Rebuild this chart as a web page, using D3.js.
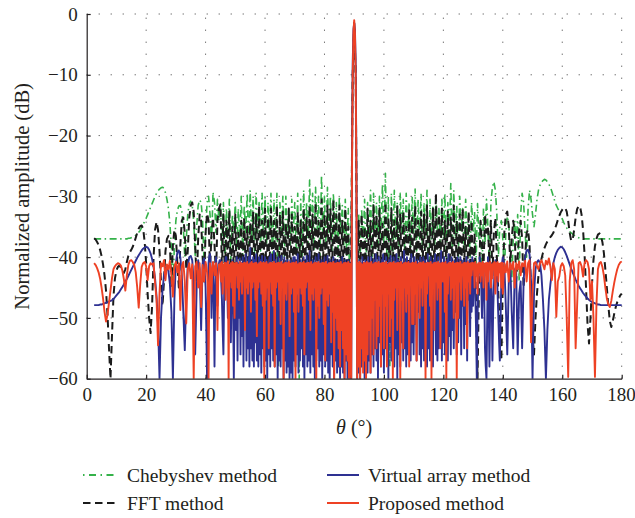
<!DOCTYPE html>
<html><head><meta charset="utf-8">
<script src="https://cdn.jsdelivr.net/npm/d3@7/dist/d3.min.js"></script>
<style>
body{margin:0;background:#fff}
svg{display:block}
text{font-family:"Liberation Serif","DejaVu Serif","Noto Serif",serif;fill:#231f20}
</style>
</head><body>
<svg id="chart" width="635" height="518"></svg>
<script>
const xTicks = [0, 20, 40, 60, 80, 100, 120, 140, 160, 180];
const yTicks = [0, -10, -20, -30, -40, -50, -60];
const seriesNames = ["Chebyshev method", "FFT method", "Virtual array method", "Proposed method"];

// Chebyshev & FFT: theta = 2.5° ... 180° step 0.5°
const chebyshev = [
-37,-37,-37,-37,-37,
-37,-37,-37,-37,-37,-37,-37,-37,-37,-37,
-37,-37,-37,-37,-37,-37,-37,-37,-36.9,-36.9,
-36.8,-36.7,-36.6,-36.4,-36.2,-35.9,-35.6,-35.1,-34.6,-34.1,
-33.6,-33.0,-32.4,-31.8,-31.2,-30.6,-30.0,-29.5,-29.1,-28.8,
-28.6,-28.5,-28.7,-29.4,-30.5,-32.0,-34.5,-38.5,-45,-38,
-34,-32.3,-31.6,-31.5,-32.5,-35,-40,-37,-33,-31.2,
-30.8,-31.5,-34,-40,-35,-31.5,-30.6,-31,-34,-41,
-36,-31,-30,-33,-38,-29.3,-31,-36,-30.5,-34,
-31.4,-38,-31,-40,-32,-37,-30.5,-41,-33,-36,
-31,-39,-32,-37,-30,-40,-31.5,-36,-29.5,-38,
-29,-37,-30,-40,-29.5,-36,-31,-39,-29.5,-37,
-30,-38,-31,-36,-29.5,-41,-30.5,-37,-29.5,-58,
-31,-36,-30,-40,-30,-37,-32,-38,-30.5,-36,
-31,-39,-29.5,-60,-30.5,-40,-29,-36,-31,-38,
-27.3,-37,-29.5,-39,-28.5,-36,-30,-40,-26.5,-37,
-30,-38,-28.5,-36,-30,-39,-29.5,-37,-31,-40,
-30,-36,-31.5,-38,-30.5,-40,-32,-45,-33,-10,
-1.5,-10,-45,-33,-40,-32,-38,-30.5,-41,-31,
-37,-29,-40,-29.5,-36,-31,-39,-30,-37,-28,
-38,-26.2,-40,-30,-58,-29.5,-39,-29,-37,-31,
-40,-29.5,-36,-30.5,-39,-29.5,-37,-31,-40,-30,
-36,-28.8,-39,-30.5,-37,-29.5,-40,-31,-36,-29,
-55,-30.5,-37,-31.5,-40,-30,-36,-32,-39,-30.5,
-37,-29.5,-40,-31,-36,-27.9,-39,-29,-37,-31.5,
-40,-30,-36,-32,-39,-30.5,-37,-33,-40,-31,
-36,-32.5,-41,-31.2,-37,-34,-43,-32,-38,-30.5,
-35,-42,-31,-28.5,-27.6,-29,-33,-40,-35,-34,
-37,-43,-36,-33.3,-34.5,-39,-44,-37,-34,-38,
-33,-44,-33,-29.5,-31,-36,-40,-32,-29.0,-30.5,
-33,-35,-33,-30.5,-29,-28.2,-27.7,-27.4,-27.2,-27.3,
-27.6,-28.0,-28.5,-29.2,-30.0,-30.8,-31.5,-32.0,-32.5,-33.1,
-33.7,-34.3,-34.8,-35.2,-35.5,-35.8,-36.0,-36.2,-36.4,-36.6,
-36.7,-36.8,-36.9,-36.9,-37,-37,-37,-37,-37,-37,
-37,-37,-37,-37,-37,-37,-37,-37,-37,-37,
-37,-37,-37,-37,-37,-37,-37,-37,-37,-37,
-37
];

const fft = [
-36.9,-37.1,-37.5,-38.0,-38.8,
-39.8,-41.2,-43.0,-45.5,-49.5,-55,-60,-53,-46.5,-43.5,
-42.2,-41.6,-41.4,-41.7,-42.3,-42.6,-42.0,-40.8,-39.8,-39.2,
-38.8,-38.3,-37.6,-36.8,-36.0,-35.3,-34.9,-34.8,-35.3,-37.5,
-41,-46,-50,-52.5,-48,-40,-35.5,-34.2,-35.5,-39,
-44,-48,-44,-39,-37,-36.5,-38,-45,-38,-35.5,
-36.5,-41,-45,-38,-34,-33.5,-36,-42,-39,-33.5,
-31.5,-31,-32.5,-38,-44,-37,-33,-34,-40,-44,
-36,-32.8,-34,-42,-36,-33.5,-38,-43,-34,-32,
-31.3,-42,-33,-44,-34,-41,-32.5,-45,-35,-42,
-33,-44,-36,-41,-34,-46,-33.5,-42,-35,-44,
-34.4,-41,-32.5,-45,-33,-42,-31.5,-44,-34,-41,
-32,-45,-33.5,-42,-32,-44,-34,-41,-31.5,-46,
-33,-42,-32.5,-44,-34.5,-41,-32,-45,-33,-42,
-35,-44,-32.5,-41,-34,-46,-32,-42,-33.5,-44,
-31.5,-41,-33,-45,-31,-42,-34,-44,-30.5,-41,
-33,-45,-31.5,-42,-32,-44,-30.5,-41,-33,-46,
-31.5,-42,-34,-44,-32,-41,-35,-50,-38,-10,
-1.5,-10,-45,-34,-43,-33,-42,-35,-44,-32,
-41,-34,-45,-31.5,-42,-33,-44,-32,-41,-34.5,
-45,-31,-42,-33.5,-44,-32,-41,-34,-46,-31.5,
-42,-33,-44,-32.5,-41,-35,-45,-32,-42,-33.5,
-44,-31.5,-41,-34,-46,-32.5,-42,-33,-44,-31.5,
-41,-34.5,-45,-32,-42,-29.5,-44,-33,-41,-32,
-45,-34,-42,-32.5,-44,-33.5,-41,-31.5,-46,-34,
-42,-33,-44,-32,-41,-35,-45,-32.5,-42,-34,
-44,-36,-48,-60,-44,-34,-38,-42,-33,-36,
-35,-41,-34,-43,-36,-33.5,-40,-46,-52,-57,
-44,-36,-33,-32.5,-35,-41,-37,-34,-36,-44,
-40,-35.5,-34,-37,-45,-40,-36,-35.5,-38,-46,
-53,-56,-50,-46,-43,-41.5,-40.3,-39.3,-38.5,-37.9,
-37.4,-37.0,-36.7,-36.4,-36.0,-35.4,-34.7,-33.9,-33.2,-32.6,
-32.2,-31.9,-31.9,-32.5,-34,-36,-37.3,-37.2,-35.5,-33.5,
-32.1,-31.6,-31.7,-33,-35.5,-39.5,-45,-51,-54.2,-50,
-44.5,-40.5,-38.2,-37,-36.3,-36.1,-36.5,-37.5,-39.3,-42,
-45,-48,-50.5,-51.5,-50.5,-49.3,-48.2,-47.4,-46.8,-46.3,
-46
];

// Virtual array: 2.5°–39.5° step 0.5 | 40°–139.75° step 0.25 | 140°–180° step 0.5
const virtualLow = [
-47.9,-47.9,-47.9,-47.9,-47.8,
-47.8,-47.7,-47.6,-47.5,-47.4,-47.3,-47.2,-47.1,-46.9,-46.6,
-46.3,-46.0,-45.7,-45.3,-44.9,-44.5,-44.0,-43.6,-43.1,-42.6,
-42.1,-41.6,-41.1,-40.6,-40.1,-39.7,-39.3,-38.9,-38.6,-38.4,
-38.3,-38.4,-38.8,-39.4,-40.3,-41.6,-43.5,-46.5,-51,-60,
-50,-45.5,-43.0,-41.8,-41.5,-42.3,-44.5,-49,-60,-47,
-41,-39.2,-38.9,-40,-43,-49,-55.3,-46,-41.5,-40,
-39.8,-40.5,-44,-56,-45,-40.5,-42,-52,-41,-40.2
];
const virtualMid = [
-45,-52,-60,-47,-41,-39.8,-39.5,-42,-50,-44,-42,-47,-58,-45,-40,-42,-48,-43,-41,-40.5,
-40.5,-44,-47,-52,-56,-46,-42,-40,-40,-44,-50,-45,-41,-46,-54,-45,-40.5,-48,-60,-47,
-41,-52,-40,-57,-41,-50,-40.2,-56,-41,-53,-40,-58,-41,-51,-39.5,-57,-41,-55,-40,-58,
-38.5,-55,-41,-57,-40,-58,-40.5,-54,-39.5,-57,-41,-58,-40,-56,-40.5,-59,-39.8,-55,-41,-58,
-40,-57,-40.5,-60,-41,-56,-40,-58,-39.5,-55,-41,-57,-39,-58,-40.5,-56,-41,-60,-40,-57,
-41,-58,-39.8,-55,-41,-60,-40,-57,-41,-59,-40.5,-58,-41,-60,-40.5,-59,-41,-60,-40,-57,
-40,-58,-41,-56,-39.5,-59,-41,-57,-40.5,-55,-41,-58,-40,-60,-41,-56,-39.8,-58,-41,-57,
-39,-59,-41,-56,-40.5,-58,-41,-60,-40,-57,-41,-55,-39.5,-58,-41,-57,-40.5,-60,-41,-56,
-40,-58,-41,-57,-39.8,-59,-41,-60,-40.5,-56,-41,-58,-40,-60,-41,-57,-40.5,-59,-41,-58,
-40.5,-60,-41,-58,-40,-59,-41,-60,-40.5,-57,-41,-60,-40.5,-58,-41,-60,-60,-25,-8,-2.5,
-1.5,-2.5,-8,-25,-60,-41,-59,-40.5,-60,-41,-58,-40,-57,-41,-60,-40.5,-58,-41,-59,-40,
-57,-41,-59,-40,-56,-41,-58,-40.5,-55,-39.5,-57,-41,-60,-40,-54,-41,-58,-40.5,-56,-39.5,
-59,-41,-55,-40,-57,-41,-60,-40.5,-54,-39.8,-57,-41,-56,-40,-58,-41,-55,-39.5,-60,-40.5,
-56,-41,-58,-40,-54,-41,-57,-39,-55,-41,-58,-40,-56,-41,-52,-40.5,-57,-39.5,-54,-41,
-56,-40,-51,-41,-57,-40.5,-49,-41,-56,-40,-58,-41,-55,-40,-57,-40.5,-53,-41,-58,-39.5,
-55,-41,-57,-40,-54,-41,-58,-40.5,-52,-39.5,-56,-41,-57,-40,-55,-41,-53,-39,-57,-41,
-54,-40,-56,-41,-50,-40.5,-57,-39.5,-53,-41,-56,-40,-52,-41,-55,-40.5,-49,-41,-56,-40,
-54,-41,-50,-40,-56,-41,-48,-40.5,-55,-41,-51,-40,-57,-41,-47,-40.5,-53,-41,-49,-40,
-48,-43,-41,-46,-52,-60,-50,-44,-42,-40,-41,-45,-50,-45,-41,-46,-55,-58,-60,-50,
-40,-47,-58,-48,-41,-46,-57,-49,-45,-41.5,-40.5,-44,-42,-46,-50,-54,-57,-50,-44,-41
];
const virtualHigh = [
-40,-41,-48,-56,-44,-41,-49,-55,-42,-42.5,
-56,-46,-44,-55,-44,-40,-38.9,-38.8,-39.5,-44,
-60,-46,-42,-40.8,-40.5,-41,-43,-47,-52,-60,
-52,-47,-44.5,-42.5,-41,-40,-39.3,-38.8,-38.5,-38.3,
-38.4,-38.7,-39.2,-39.8,-40.5,-41.2,-41.9,-42.5,-43.1,-43.7,
-44.2,-44.7,-45.1,-45.5,-45.9,-46.2,-46.5,-46.8,-47.0,-47.2,
-47.4,-47.5,-47.6,-47.7,-47.8,-47.8,-47.9,-47.9,-47.9,-47.9,
-47.9,-47.9,-47.9,-47.9,-47.9,-47.9,-47.9,-47.9,-47.9,-47.9,
-47.9
];

// Proposed: same three angular segments as the virtual array series
const proposedLow = [
-41.0,-41.3,-41.8,-42.5,-43.5,
-45.0,-46.8,-49.0,-50.6,-49.5,-47.5,-45.5,-43.5,-42.0,-41.5,
-41.2,-41.0,-41.1,-41.4,-42.2,-43.6,-45.5,-43.0,-41.3,-40.6,
-40.5,-40.8,-41.3,-42.5,-45.0,-48.3,-44.5,-41.6,-41.0,-40.8,
-41.5,-43.8,-41.5,-41.0,-41.2,-41.0,-44.3,-47.0,-54.5,-46.0,
-41.0,-41.5,-40.5,-43.8,-41.2,-42.0,-40.6,-43.0,-46.5,-41.5,
-40.8,-42.5,-41.0,-48.7,-41.5,-40.8,-44.0,-50.9,-42.0,-41.0,
-43.5,-41.2,-60,-41.5,-40.8,-45.0,-41.0,-48.2,-41.3,-44.0
];
const proposedMid = [
-40.8,-41.5,-42.5,-45,-60,-45,-41,-42.5,-46,-42,-40.8,-41.5,-43,-41.8,-41,-44,-52,-44,-41.2,-42,
-41,-44,-40.8,-46,-41.2,-43,-40.9,-47,-41,-45,-40.7,-60,-41.3,-44,-41,-45,-40.8,-48,-41,-50,
-41,-43,-40.9,-45,-41.2,-47,-40.8,-44,-41,-46,-41.1,-43,-40.9,-52,-41,-45,-40.8,-46,-41.2,-44,
-41,-49,-40.8,-45,-41.1,-44,-41,-47,-40.9,-53,-41.2,-45,-41,-44,-40.8,-46,-41,-48,-40.9,-60,
-41,-47,-40.8,-45,-41.2,-55,-41,-44,-40.9,-46,-41,-48,-40.8,-58,-41.1,-45,-41,-44,-40.9,-47,
-41,-51,-40.8,-45,-41.2,-60,-41,-46,-40.9,-47,-41,-44,-40.8,-53,-41.1,-46,-41,-45,-40.9,-49,
-41,-60,-40.8,-46,-41.2,-49,-41,-45,-40.9,-46,-41,-48,-40.8,-56,-41.1,-45,-41,-44,-40.9,-47,
-41,-52,-40.8,-46,-41.2,-47,-41,-45,-40.9,-60,-41,-48,-40.8,-50,-41.1,-46,-41,-45,-40.9,-51,
-41,-57,-40.8,-47,-41.2,-48,-41,-46,-40.9,-54,-41,-49,-40.8,-60,-41.1,-50,-41,-52,-40.9,-55,
-41,-58,-40.8,-52,-41.2,-55,-41,-60,-40.9,-56,-41,-57,-40.8,-60,-41.1,-58,-60,-27,-10,-3,
-1,-3,-10,-27,-60,-41,-58,-40.8,-60,-41,-55,-41.2,-59,-40.9,-57,-41,-60,-40.8,-56,-41,
-52,-41,-59,-40.8,-50,-41.2,-56,-41,-47,-40.9,-55,-41,-53,-40.8,-48,-41.1,-58,-41,-46,-40.9,
-55,-41,-48,-40.8,-58,-41.2,-46,-41,-53,-40.9,-50,-41,-60,-40.8,-47,-41.1,-45,-41,-52,-40.9,
-44,-41,-60,-40.8,-47,-41.2,-55,-41,-45,-40.9,-49,-41,-46,-40.8,-58,-41.1,-44,-41,-51,-40.9,
-51,-41,-46,-40.8,-57,-41.2,-44,-41,-50,-40.9,-45,-41,-48,-40.8,-43,-41.1,-60,-41,-46,-40.9,
-43,-41,-48,-40.8,-60,-41.2,-45,-41,-52,-40.9,-44,-41,-47,-40.8,-45,-41.1,-55,-41,-44,-40.9,
-44,-41,-49,-40.8,-60,-41.2,-46,-41,-43,-40.9,-47,-41,-45,-40.8,-50,-41.1,-44,-41,-60,-40.9,
-50,-41,-44,-40.8,-47,-41.2,-43,-41,-48,-40.9,-45,-41,-55,-40.8,-44,-41.1,-46,-41,-43,-40.9,
-42,-41,-45,-40.8,-43,-41.2,-46,-41,-42.5,-40.9,-44,-41,-43,-40.8,-45,-41.1,-42,-41,-47,-40.9,
-44,-41,-42,-40.8,-45,-41.2,-43.5,-41,-42,-40.8,-46,-41,-43,-40.8,-44,-41.1,-42.5,-41,-45,-40.9
];
const proposedHigh = [
-46,-41,-42.5,-40.7,-44,-41,-42,-40.8,-45,-41,
-42,-40.7,-43,-41,-41.5,-40.6,-44,-41,-40.5,-54,
-46,-41.0,-40.8,-41.5,-42,-41,-40.5,-41.2,-42,-40.6,
-41.2,-40.2,-41.5,-43.8,-41.0,-42,-49.8,-44,-43.2,-41.5,
-41.0,-41.5,-43,-50,-59.7,-44,-41,-40.5,-42,-55,
-48,-41,-40.8,-41.5,-43.2,-41,-40.5,-40.8,-42,-47,
-44,-50,-59.7,-48,-42,-41,-40.8,-41.6,-43,-45,
-46.8,-47.8,-48.2,-47.2,-45.6,-44.2,-43.0,-42.0,-41.3,-40.9,
-40.7
];

// build (theta, dB) points from the sampled segments
function pts(segments) {
  const out = [];
  segments.forEach(([start, step, vals]) => vals.forEach((v, i) => out.push([start + i * step, v])));
  return out;
}
const series = [
  {name: seriesNames[0], data: pts([[2.5, 0.5, chebyshev]]), n: 356, color: "#35b24a", width: 1.6, dash: "7,3.5,1.5,3.5"},
  {name: seriesNames[1], data: pts([[2.5, 0.5, fft]]), n: 356, color: "#1b1b1b", width: 2, dash: "7.5,4.5"},
  {name: seriesNames[2], data: pts([[2.5, 0.5, virtualLow], [40, 0.25, virtualMid], [140, 0.5, virtualHigh]]), n: 556, color: "#2e3192", width: 1.9, dash: null},
  {name: seriesNames[3], data: pts([[2.5, 0.5, proposedLow], [40, 0.25, proposedMid], [140, 0.5, proposedHigh]]), n: 556, color: "#ee4124", width: 1.9, dash: null}
];

const svg = d3.select("#chart");
const x = d3.scaleLinear().domain([0, 180]).range([86.7, 621.7]);
const y = d3.scaleLinear().domain([-60, 0]).range([378.7, 14]);

series.forEach((s, k) => {
  if (s.data.length !== s.n) svg.append("text").attr("x", 300).attr("y", 60 + k * 20).style("fill", "magenta").text(s.name + " n=" + s.data.length);
});

// grid
const grid = svg.append("g").attr("stroke", "#3a3a3a").attr("stroke-width", 1).attr("stroke-dasharray", "1,11");
xTicks.filter(t => t > 0).forEach(t => {
  grid.append("line").attr("x1", x(t)).attr("x2", x(t)).attr("y1", y(-60)).attr("y2", y(0));
});
yTicks.filter(t => t > -60).forEach(t => {
  grid.append("line").attr("x1", x(0)).attr("x2", x(180)).attr("y1", y(t)).attr("y2", y(t));
});

svg.append("clipPath").attr("id", "plotclip").append("rect")
  .attr("x", x(0)).attr("y", 0).attr("width", x(180) - x(0) + 2).attr("height", y(-60));

const line = d3.line().x(d => x(d[0])).y(d => y(d[1]));

const plot = svg.append("g").attr("clip-path", "url(#plotclip)");
series.forEach(s => {
  plot.append("path")
    .attr("d", line(s.data))
    .attr("fill", "none")
    .attr("stroke", s.color)
    .attr("stroke-width", s.width)
    .attr("stroke-linejoin", "round")
    .attr("stroke-dasharray", s.dash);
});

// axes
const fmt = d3.format("");
const yAxis = d3.axisLeft(y).tickValues(yTicks).tickFormat(fmt).tickSizeInner(-4).tickSizeOuter(0).tickPadding(9);
const xAxis = d3.axisBottom(x).tickValues(xTicks).tickFormat(fmt).tickSizeInner(-4).tickSizeOuter(0).tickPadding(9);
const gy = svg.append("g").attr("transform", `translate(${x(0)},0)`).call(yAxis);
const gx = svg.append("g").attr("transform", `translate(0,${y(-60)})`).call(xAxis);
[gx, gy].forEach(g => {
  g.attr("font-family", null).attr("font-size", null);
  g.selectAll("path, line").attr("stroke", "#231f20").attr("stroke-width", 1.2);
  g.selectAll("text").style("font-size", "19px").style("fill", "#231f20");
});
// keep the last x label inside the 635px canvas
gx.selectAll(".tick").filter(d => d === 180).select("text").attr("text-anchor", "end").attr("dx", "13.5");

svg.append("text")
  .attr("transform", `translate(29,${(y(0) + y(-60)) / 2}) rotate(-90)`)
  .attr("text-anchor", "middle")
  .style("font-size", "20.5px")
  .text("Normalized amplitude (dB)");

const xl = svg.append("text")
  .attr("x", (x(0) + x(180)) / 2).attr("y", 434)
  .attr("text-anchor", "middle")
  .style("font-size", "20px");
xl.append("tspan").style("font-style", "italic").text("θ");
xl.append("tspan").text(" (°)");

// legend
const legendPos = [
  {lx: 83, tx: 127, y: 475},
  {lx: 83, tx: 127, y: 503},
  {lx: 327, tx: 368, y: 475},
  {lx: 327, tx: 368, y: 503}
];
series.forEach((s, k) => {
  const p = legendPos[k];
  svg.append("line")
    .attr("x1", p.lx).attr("x2", p.lx + 32).attr("y1", p.y).attr("y2", p.y)
    .attr("stroke", s.color).attr("stroke-width", 2)
    .attr("stroke-dasharray", k === 0 ? "1.5,4.5,7,4.5" : s.dash);
  svg.append("text")
    .attr("x", p.tx).attr("y", p.y + 7)
    .style("font-size", "19.5px")
    .text(s.name);
});
</script>
</body></html>
